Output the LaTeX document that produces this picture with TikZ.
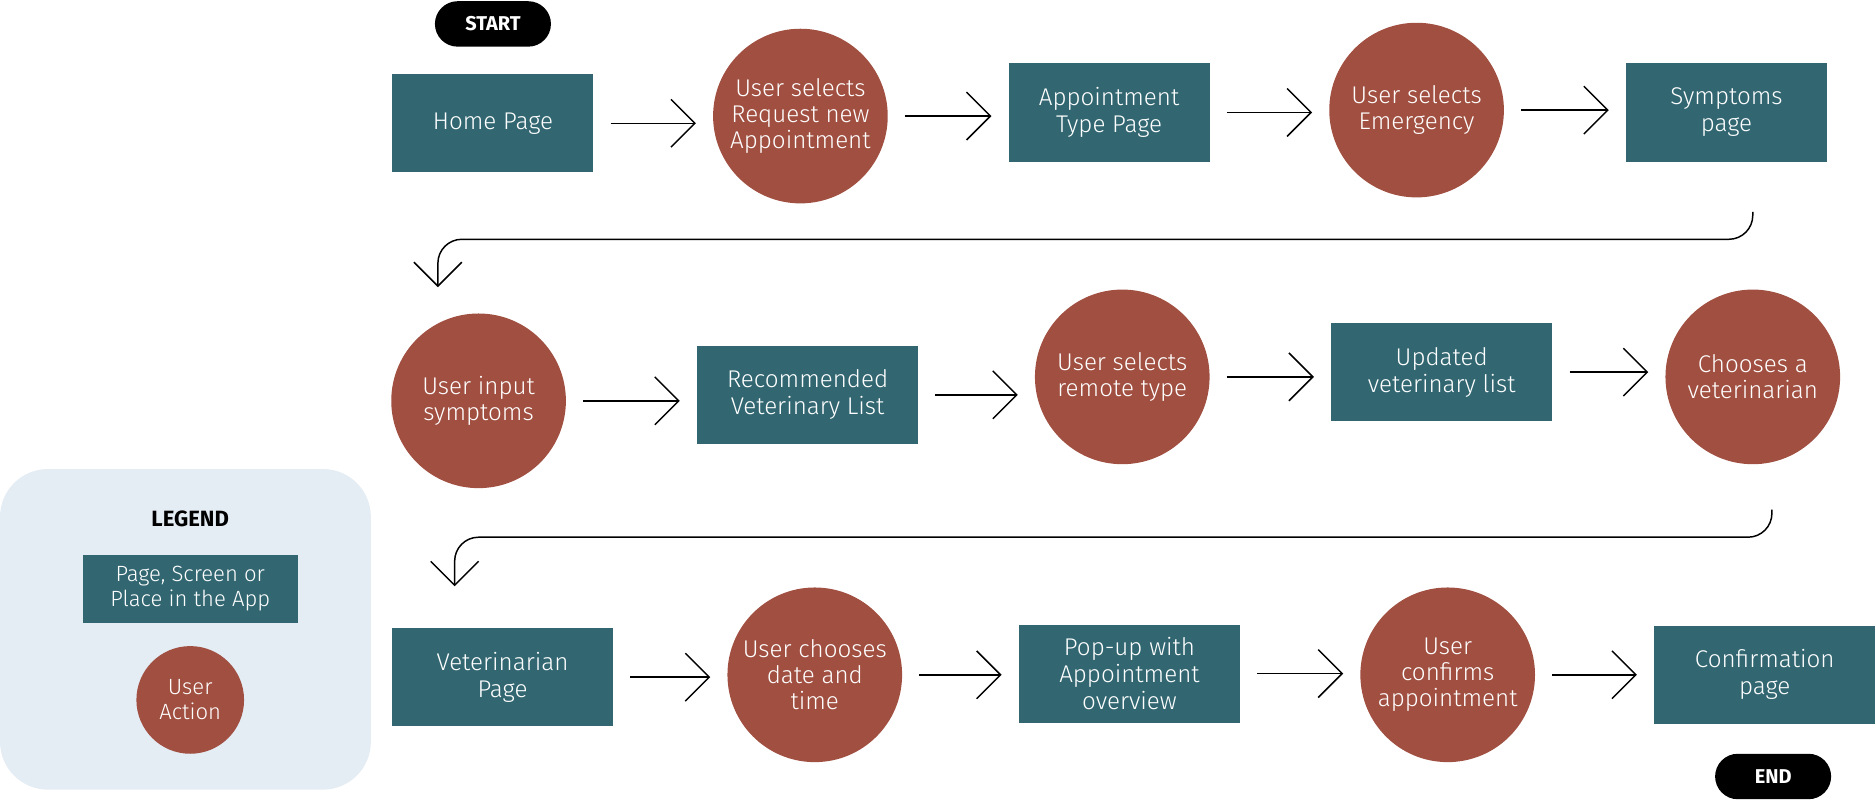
\documentclass[tikz,border=0pt]{standalone}
\usepackage{fontspec}
\setmainfont{Fira Sans Light}[BoldFont=Fira Sans Bold]
\usetikzlibrary{arrows.meta}

\definecolor{screenteal}{RGB}{50,103,114}
\definecolor{actionred}{RGB}{160,79,64}
\definecolor{legendblue}{RGB}{228,236,244}

\tikzset{
	screen/.style = {fill=screenteal, text=white, minimum width=3.36cm, minimum height=1.64cm, inner sep=2pt, align=center, font=\fontsize{11.5}{12.8}\selectfont},
	widescreen/.style = {screen, minimum width=3.7cm},
	action/.style = {circle, fill=actionred, text=white, minimum size=2.92cm, inner sep=0pt, align=center, font=\fontsize{11.5}{12.5}\selectfont},
	terminal/.style = {fill=black, text=white, rounded corners=0.38cm, minimum width=1.94cm, minimum height=0.76cm, inner sep=0pt, font=\bfseries\fontsize{9.5}{10}\selectfont},
	legendbox/.style = {fill=legendblue, rounded corners=0.8cm, minimum width=6.2cm, minimum height=5.36cm, inner sep=0pt},
	flow/.style = {draw, line width=0.7pt, -{Straight Barb[length=0.4cm, width=0.8cm]}, shorten <=0.28cm, shorten >=0.28cm},
	wrap/.style = {draw, line width=0.7pt, rounded corners=0.4cm, -{Straight Barb[length=0.4cm, width=0.8cm]}}
}

\begin{document}
\begin{tikzpicture}[x=0.02cm, y=-0.02cm]
	\useasboundingbox (0,0) rectangle (1568,670);

	\node[legendbox] (Legend) at (155,526) {};
	\node[font=\bfseries\fontsize{10.5}{12}\selectfont] (LegendTitle) at (159,434) {LEGEND};
	\node[screen, minimum width=3.6cm, minimum height=1.14cm, font=\fontsize{10.5}{11.8}\selectfont] (LegendScreen) at (159,492) {Page, Screen or\\Place in the App};
	\node[action, minimum size=1.8cm, font=\fontsize{10.5}{12}\selectfont] (LegendAction) at (159,585) {User\\Action};

	\node[terminal] (Start) at (412,20) {START};
	\node[screen] (HomePage) at (412,103) {Home Page};
	\node[action] (RequestNew) at (669,97) {User selects\\Request new\\Appointment};
	\node[screen] (AppointmentType) at (927,94) {Appointment\\Type Page};
	\node[action] (SelectEmergency) at (1184,92) {User selects\\Emergency};
	\node[screen] (SymptomsPage) at (1443,94) {Symptoms\\page};

	\node[action] (InputSymptoms) at (400,335) {User input\\symptoms};
	\node[widescreen] (RecommendedList) at (675,330) {Recommended\\Veterinary List};
	\node[action] (RemoteType) at (938,315) {User selects\\remote type};
	\node[widescreen] (UpdatedList) at (1205,311) {Updated\\veterinary list};
	\node[action] (ChooseVet) at (1465,315) {Chooses a\\veterinarian};

	\node[widescreen] (VetPage) at (420,566) {Veterinarian\\Page};
	\node[action] (DateTime) at (681,564) {User chooses\\date and\\time};
	\node[widescreen] (PopUp) at (944,563) {Pop-up with\\Appointment\\overview};
	\node[action] (ConfirmAppointment) at (1210,564) {User\\confirms\\appointment};
	\node[widescreen] (ConfirmationPage) at (1475,564) {Confirmation\\page};
	\node[terminal] (End) at (1482,649) {END};

	\draw[flow] (HomePage.east) -- (HomePage.east -| RequestNew.west);
	\draw[flow] (RequestNew.east) -- (RequestNew.east -| AppointmentType.west);
	\draw[flow] (AppointmentType.east) -- (AppointmentType.east -| SelectEmergency.west);
	\draw[flow] (SelectEmergency.east) -- (SelectEmergency.east -| SymptomsPage.west);

	\coordinate (WrapOneStart) at (1465,177);
	\coordinate (WrapOneLevel) at (0,200);
	\coordinate (WrapOneEnd) at (366,240);
	\draw[wrap] (WrapOneStart) |- (WrapOneLevel -| WrapOneEnd) -- (WrapOneEnd);

	\draw[flow] (InputSymptoms.east) -- (InputSymptoms.east -| RecommendedList.west);
	\draw[flow] (RecommendedList.east) -- (RecommendedList.east -| RemoteType.west);
	\draw[flow] (RemoteType.east) -- (RemoteType.east -| UpdatedList.west);
	\draw[flow] (UpdatedList.east) -- (UpdatedList.east -| ChooseVet.west);

	\coordinate (WrapTwoStart) at (1481,426);
	\coordinate (WrapTwoLevel) at (0,449);
	\coordinate (WrapTwoEnd) at (380,490);
	\draw[wrap] (WrapTwoStart) |- (WrapTwoLevel -| WrapTwoEnd) -- (WrapTwoEnd);

	\draw[flow] (VetPage.east) -- (VetPage.east -| DateTime.west);
	\draw[flow] (DateTime.east) -- (DateTime.east -| PopUp.west);
	\draw[flow] (PopUp.east) -- (PopUp.east -| ConfirmAppointment.west);
	\draw[flow] (ConfirmAppointment.east) -- (ConfirmAppointment.east -| ConfirmationPage.west);
\end{tikzpicture}
\end{document}
